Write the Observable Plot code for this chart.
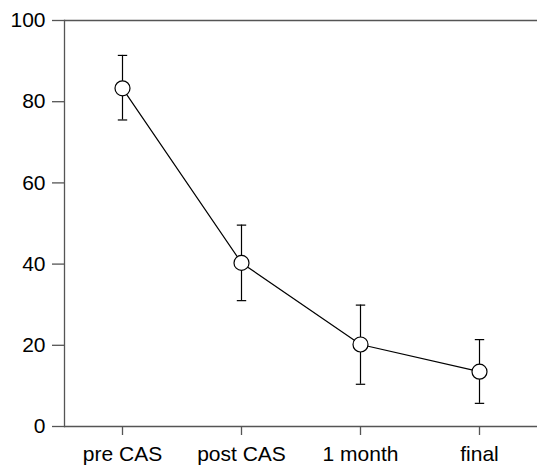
<!DOCTYPE html>
<html>
<head>
<meta charset="utf-8">
<script src="https://cdn.jsdelivr.net/npm/d3@7"></script>
<script src="https://cdn.jsdelivr.net/npm/@observablehq/plot@0.6"></script>
<style>
  html, body { margin: 0; padding: 0; background: #fff; }
</style>
</head>
<body>
<div id="chart"></div>
<script>
const categories = ["pre CAS", "post CAS", "1 month", "final"];
const means = [83.3, 40.3, 20.2, 13.5];
const upper = [91.4, 49.6, 29.9, 21.4];
const lower = [75.5, 31.0, 10.4, 5.7];
const yTicks = [0, 20, 40, 60, 80, 100];

const data = categories.map((c, i) => ({cat: c, mean: means[i], lo: lower[i], hi: upper[i]}));

const capSymbol = {
  draw(ctx, size) {
    const r = Math.sqrt(size / Math.PI);
    ctx.moveTo(-r, 0);
    ctx.lineTo(r, 0);
  }
};

const axisColor = "#555";

const chart = Plot.plot({
  width: 537,
  height: 465,
  marginLeft: 64,
  marginRight: 0,
  marginTop: 20,
  marginBottom: 39,
  style: {fontSize: "21px", fontFamily: "'Liberation Sans', Arial, Helvetica, sans-serif", background: "#fff", color: "#000"},
  x: {type: "point", domain: categories, padding: 0.48, label: null},
  y: {domain: [0, 100], label: null},
  marks: [
    Plot.ruleY([0, 100], {stroke: axisColor, strokeWidth: 1.3}),
    Plot.frame({anchor: "left", stroke: axisColor, strokeWidth: 1.3}),
    Plot.axisY({ticks: yTicks, tickSize: 12, tickPadding: 7, stroke: axisColor, strokeWidth: 1.3, label: null}),
    Plot.axisX({tickSize: 9, tickPadding: 11, stroke: axisColor, strokeWidth: 1.3, label: null}),
    Plot.ruleX(data, {x: "cat", y1: "lo", y2: "hi", stroke: "#000", strokeWidth: 1.2}),
    Plot.dot(data, {x: "cat", y: "hi", symbol: capSymbol, r: 4.7, stroke: "#000", fill: "none", strokeWidth: 1.2}),
    Plot.dot(data, {x: "cat", y: "lo", symbol: capSymbol, r: 4.7, stroke: "#000", fill: "none", strokeWidth: 1.2}),
    Plot.line(data, {x: "cat", y: "mean", stroke: "#000", strokeWidth: 1.2}),
    Plot.dot(data, {x: "cat", y: "mean", r: 7.5, fill: "#fff", stroke: "#000", strokeWidth: 1.2})
  ]
});
document.getElementById("chart").appendChild(chart);
</script>
</body>
</html>
